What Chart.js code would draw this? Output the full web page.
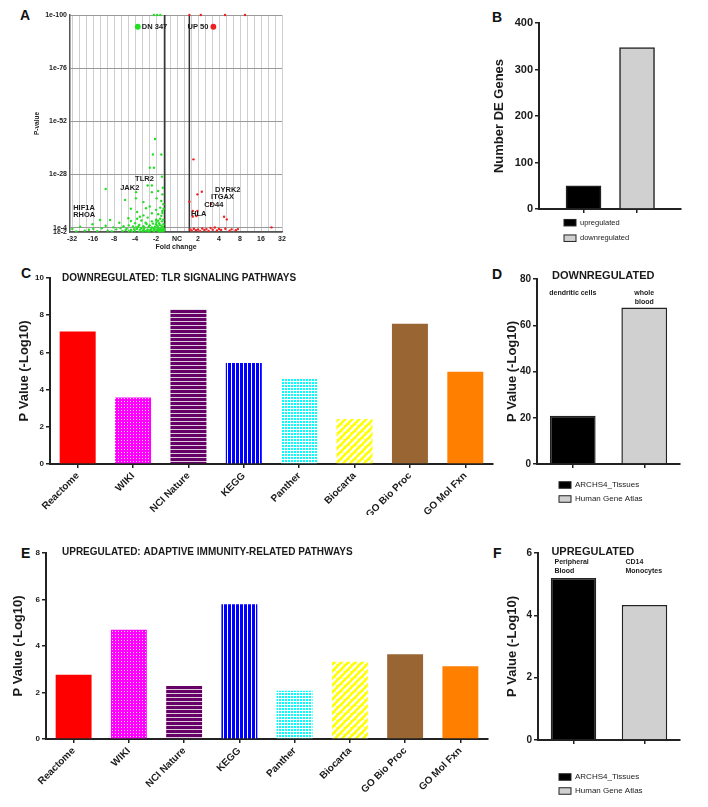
<!DOCTYPE html>
<html>
<head>
<meta charset="utf-8">
<script src="https://cdn.jsdelivr.net/npm/chart.js@4.4.1/dist/chart.umd.min.js"></script>
<style>
  body { margin: 0; width: 708px; height: 807px; position: relative; overflow: hidden; background: #fff;
         font-family: 'Liberation Sans', Arial, sans-serif; }
  canvas { position: absolute; }
  .tag { position: absolute; font-weight: bold; font-size: 14px; line-height: 14px; color: #111; }
</style>
</head>
<body>
<div class="tag" style="left:20px;top:8px">A</div>
<div class="tag" style="left:492px;top:10px">B</div>
<div class="tag" style="left:21px;top:266px">C</div>
<div class="tag" style="left:492px;top:267px">D</div>
<div class="tag" style="left:21px;top:546px">E</div>
<div class="tag" style="left:493px;top:546px">F</div>

<canvas id="chartA" width="300" height="252" style="left:0;top:0"></canvas>
<canvas id="chartB" width="268" height="250" style="left:440px;top:0"></canvas>
<canvas id="chartC" width="500" height="265" style="left:0;top:250px"></canvas>
<canvas id="chartD" width="248" height="262" style="left:460px;top:250px"></canvas>
<canvas id="chartE" width="500" height="297" style="left:0;top:510px"></canvas>
<canvas id="chartF" width="248" height="297" style="left:460px;top:510px"></canvas>

<script>
const FONT = "'Liberation Sans', Arial, sans-serif";

// --- panel A: volcano plot (x = signed log2 fold change, y = -log10 p)
const foldTicks = [-5, -4, -3, -2, -1, 0, 1, 2, 3, 4, 5];
const pValueTicks = [2, 4, 28, 52, 76, 100];
const foldCutoffs = [-0.585, 0.585];
const deNames = ['DN', 'UP'];
const deCounts = [347, 50];
const deMarkers = [[-1.87, 94.7], [1.73, 94.7]];

const downGenes = [
  [-1.1, 100], [-0.95, 100], [-0.8, 100],
  [-1.05, 44], [-1.15, 37], [-0.75, 37], [-1.3, 31], [-1.1, 31], [-0.72, 27], [-1.4, 23], [-1.2, 23],
  [-0.68, 22], [-3.4, 21.4], [-1.95, 20], [-1.2, 20], [-0.9, 20.5], [-0.7, 19], [-2.48, 16.5], [-1.96, 17.2],
  [-0.97, 17.2], [-0.75, 16], [-1.6, 15.5], [-1.48, 12.7], [-0.65, 14.5], [-0.8, 13], [-1.3, 13.5],
  [-2.2, 12.5], [-1.0, 12], [-0.7, 11.5], [-1.9, 11], [-1.2, 10.5], [-0.9, 10], [-1.77, 8.9], [-2.32, 8.2],
  [-0.75, 9.3], [-1.6, 9.5],
  [-4.99, 3.4], [-4.62, 4.4], [-4.03, 5.5], [-3.99, 3.4], [-3.67, 7.4], [-3.59, 3.7], [-3.19, 7.4],
  [-3.04, 4.1], [-2.75, 6.2], [-4.8, 2.3], [-4.4, 2.6], [-4.2, 3.0], [-3.8, 2.4], [-3.4, 4.8], [-3.3, 2.6],
  [-2.9, 3.2], [-2.6, 2.4], [-2.55, 4.6],
  [-2.4, 3.5], [-2.3, 5.0], [-2.3, 2.4], [-2.2, 7.0], [-2.2, 3.0], [-2.1, 4.5], [-2.0, 2.6], [-2.0, 6.0],
  [-1.9, 3.4], [-1.9, 8.0], [-1.8, 2.3], [-1.8, 5.2], [-1.7, 3.8], [-1.7, 7.2], [-1.6, 2.8], [-1.6, 4.6],
  [-1.5, 6.2], [-1.5, 2.4], [-1.4, 3.2], [-1.4, 8.5], [-1.3, 5.0], [-1.3, 2.6], [-1.2, 4.0], [-1.2, 6.8],
  [-1.1, 2.3], [-1.1, 3.6], [-1.0, 5.5], [-1.0, 7.5], [-0.95, 2.8], [-0.9, 4.2], [-0.85, 3.2], [-0.85, 6.0],
  [-0.8, 2.4], [-0.8, 8.0], [-0.75, 4.8], [-0.7, 3.0], [-0.7, 2.2], [-0.65, 5.5], [-0.65, 3.8], [-0.62, 2.6],
  [-1.55, 3.9], [-1.25, 2.9], [-0.95, 4.9], [-1.35, 4.4], [-1.05, 3.1], [-0.72, 6.8], [-0.88, 2.5],
  [-1.15, 5.8], [-1.45, 5.6], [-0.78, 3.5], [-1.65, 2.2], [-2.15, 2.2], [-1.95, 4.1], [-1.75, 3.1],
  [-1.35, 2.1], [-1.05, 4.4], [-0.92, 3.6], [-0.83, 5.2], [-0.68, 4.3], [-0.63, 3.3], [-0.66, 7.6],
  [-0.74, 2.9], [-0.86, 2.2], [-0.98, 6.5], [-1.12, 2.7], [-1.22, 3.4], [-1.42, 2.6], [-1.58, 3.3],
  [-1.85, 4.5], [-2.05, 3.3], [-2.45, 2.9], [-2.7, 3.8], [-3.1, 2.3], [-0.7, 10.6], [-0.64, 12.5], [-0.9, 7.1]
];
const upGenes = [
  [0.59, 100], [1.13, 100], [2.29, 100], [3.24, 100],
  [0.78, 34.8], [1.18, 20.2], [0.97, 19], [0.59, 15.7], [1.62, 14.6], [0.75, 11.5], [0.97, 11.5],
  [0.92, 9.2], [0.75, 9], [2.24, 8.9], [2.37, 7.7], [4.5, 4.1],
  [0.62, 3.2], [0.7, 2.6], [0.8, 3.5], [0.9, 2.8], [1.0, 3.1], [1.1, 2.4], [1.2, 3.6], [1.3, 2.9],
  [1.4, 3.3], [1.5, 2.5], [1.6, 3.8], [1.7, 3.0], [1.8, 4.0], [1.9, 2.7], [2.0, 3.4], [2.1, 2.9],
  [2.3, 3.5], [2.5, 2.6], [2.6, 3.2], [2.8, 2.8], [2.9, 3.3]
];
const geneNames = ['HIF1A', 'RHOA', 'JAK2', 'TLR2', 'DYRK2', 'ITGAX', 'CD44', 'HLA'];
const geneSpots = [[-4.95, 12.8], [-4.95, 9.7], [-2.71, 21.9], [-2.0, 26], [1.81, 21], [1.62, 17.8], [1.29, 14.2], [0.67, 10.1]];

// --- panel B
const deGroups = ['upregulated', 'downregulated'];

// --- panels C and E: pathway enrichment
const pathways = ['Reactome', 'WIKI', 'NCI Nature', 'KEGG', 'Panther', 'Biocarta', 'GO Bio Proc', 'GO Mol Fxn'];
const downPathwayP = [7.13, 3.58, 8.3, 5.43, 4.62, 2.42, 7.54, 4.96];
const upPathwayP = [2.76, 4.7, 2.28, 5.8, 2.07, 3.32, 3.65, 3.13];

// --- panels D and F: tissue libraries
const libraries = ['ARCHS4_Tissues', 'Human Gene Atlas'];
const downTerms = [['dendritic cells'], ['whole', 'blood']];
const downTermP = [20.9, 67.7];
const upTerms = [['Peripheral', 'Blood'], ['CD14', 'Monocytes']];
const upTermP = [5.2, 4.33];

Chart.defaults.font.family = FONT;
Chart.defaults.color = '#1a1a1a';
Chart.defaults.animation = false;

// fill patterns like the Prism bars
function pattern(base, w, h, draw) {
  const c = document.createElement('canvas');
  c.width = w; c.height = h;
  const g = c.getContext('2d');
  g.fillStyle = base;
  g.fillRect(0, 0, w, h);
  if (draw) draw(g);
  return g.createPattern(c, 'repeat');
}
const pathwayFills = [
  '#ff0000',
  pattern('#ff00ff', 3, 3, g => { g.fillStyle = 'rgba(255,255,255,0.85)'; g.fillRect(1, 1, 1, 1); }),
  pattern('#660066', 4, 4, g => { g.fillStyle = '#dccbdc'; g.fillRect(0, 3, 4, 1); }),
  pattern('#0000ff', 4, 4, g => { g.fillStyle = '#ffffff'; g.fillRect(3, 0, 1, 4); }),
  pattern('#ffffff', 3, 3, g => { g.fillStyle = '#00ffff'; g.fillRect(0, 0, 2, 2); }),
  pattern('#ffff00', 7, 7, g => {
    g.strokeStyle = '#ffffff'; g.lineWidth = 2.4;
    [-7, 0, 7].forEach(k => { g.beginPath(); g.moveTo(k, 7); g.lineTo(k + 7, 0); g.stroke(); });
  }),
  '#996633',
  '#ff8000'
];
const libraryFills = ['#000000', '#d0d0d0'];

// text drawn relative to the plot area (titles)
const panelText = {
  id: 'panelText',
  afterDraw(chart, args, o) {
    if (!o.lines) return;
    const ctx = chart.ctx, a = chart.chartArea;
    ctx.save();
    ctx.fillStyle = '#1a1a1a';
    ctx.textBaseline = 'middle';
    ctx.textAlign = 'left';
    o.lines.forEach(l => {
      ctx.font = 'bold ' + l.size + 'px ' + FONT;
      ctx.fillText(l.text, a.left + l.dx, a.top + l.dy);
    });
    ctx.restore();
  }
};

// term names over the bars (D, F)
const barNotes = {
  id: 'barNotes',
  afterDraw(chart, args, o) {
    if (!o.notes) return;
    const ctx = chart.ctx, a = chart.chartArea, xs = chart.scales.x;
    ctx.save();
    ctx.font = 'bold 7px ' + FONT;
    ctx.fillStyle = '#1a1a1a';
    ctx.textBaseline = 'middle';
    ctx.textAlign = o.align;
    o.notes.forEach((lines, i) => {
      const cx = xs.getPixelForValue(i) + o.dx;
      lines.forEach((t, j) => ctx.fillText(t, cx, a.top + o.dy + j * o.lineGap));
    });
    ctx.restore();
  }
};

// little box legend under the bar charts
const boxLegend = {
  id: 'boxLegend',
  afterDraw(chart, args, o) {
    if (!o.items) return;
    const ctx = chart.ctx;
    ctx.save();
    ctx.font = o.size + 'px ' + FONT;
    ctx.textBaseline = 'middle';
    ctx.textAlign = 'left';
    o.items.forEach((it, i) => {
      const y = o.y + i * o.gap;
      ctx.fillStyle = it.fill;
      ctx.fillRect(o.x, y - 3.25, 12, 6.5);
      ctx.strokeStyle = '#222';
      ctx.lineWidth = 1;
      ctx.strokeRect(o.x, y - 3.25, 12, 6.5);
      ctx.fillStyle = '#1a1a1a';
      ctx.fillText(it.text, o.x + 16, y);
    });
    ctx.restore();
  }
};

// cutoff lines, DN/UP counts and gene names on the volcano
const volcanoMarks = {
  id: 'volcanoMarks',
  beforeDatasetsDraw(chart, args, o) {
    if (!o.cutoffs) return;
    const { ctx, chartArea: a } = chart;
    const x = chart.scales.x;
    ctx.save();
    ctx.strokeStyle = '#333';
    ctx.lineWidth = 1.5;
    o.cutoffs.forEach(v => {
      const px = x.getPixelForValue(v);
      ctx.beginPath(); ctx.moveTo(px, a.top); ctx.lineTo(px, a.bottom); ctx.stroke();
    });
    ctx.restore();
  },
  afterDatasetsDraw(chart, args, o) {
    if (!o.cutoffs) return;
    const ctx = chart.ctx, x = chart.scales.x, y = chart.scales.y;
    ctx.save();
    ctx.font = 'bold 7.5px ' + FONT;
    ctx.textBaseline = 'middle';
    o.counts.forEach((c, i) => {
      const px = x.getPixelForValue(c.at[0]), py = y.getPixelForValue(c.at[1]);
      ctx.fillStyle = c.color;
      ctx.beginPath(); ctx.arc(px, py, 2.9, 0, Math.PI * 2); ctx.fill();
      ctx.fillStyle = '#1a1a1a';
      ctx.textAlign = i === 0 ? 'left' : 'right';
      ctx.fillText(c.text, px + (i === 0 ? 4 : -5), py);
    });
    ctx.textAlign = 'left';
    ctx.fillStyle = '#1a1a1a';
    o.genes.forEach(g => ctx.fillText(g.text, x.getPixelForValue(g.at[0]), y.getPixelForValue(g.at[1])));
    ctx.restore();
  }
};

Chart.register(panelText, barNotes, boxLegend, volcanoMarks);

function foldLabel(v) {
  if (v === 0) return 'NC';
  return (v < 0 ? '-' : '') + Math.pow(2, Math.abs(v));
}
const toXY = p => ({ x: p[0], y: p[1] });
const small = { size: 7, weight: 'bold' };

// panel A
new Chart(document.getElementById('chartA'), {
  type: 'scatter',
  data: {
    datasets: [
      { data: downGenes.map(toXY), backgroundColor: '#22e022', pointRadius: 1.2, borderWidth: 0, clip: false },
      { data: upGenes.map(toXY), backgroundColor: '#f02020', pointRadius: 1.2, borderWidth: 0, clip: false }
    ]
  },
  options: {
    responsive: false, devicePixelRatio: 1,
    layout: { padding: { left: 0, right: 18, top: 15, bottom: 0 } },
    plugins: {
      legend: { display: false }, tooltip: { enabled: false },
      volcanoMarks: {
        cutoffs: foldCutoffs,
        counts: deNames.map((n, i) => ({ text: n + ' ' + deCounts[i], at: deMarkers[i], color: i === 0 ? '#22e022' : '#f02020' })),
        genes: geneNames.map((n, i) => ({ text: n, at: geneSpots[i] }))
      }
    },
    scales: {
      x: {
        type: 'linear', min: -5.1, max: 5,
        afterBuildTicks: s => {
          const t = [];
          foldTicks.forEach((v, i) => {
            t.push({ value: v });
            if (i < foldTicks.length - 1) { t.push({ value: v + 1 / 3 }); t.push({ value: v + 2 / 3 }); }
          });
          s.ticks = t;
        },
        ticks: { callback: v => foldTicks.includes(v) ? foldLabel(v) : '', autoSkip: false, maxRotation: 0, font: small, padding: 3, color: '#222' },
        grid: { color: '#cfcfcf', lineWidth: 1, drawTicks: false },
        border: { color: '#555', width: 1.5 },
        title: { display: true, text: 'Fold change', font: small, padding: { top: 0, bottom: 1 }, color: '#222' },
        afterFit: s => { s.height = 20; }
      },
      y: {
        type: 'linear', min: 2, max: 100,
        afterBuildTicks: s => { s.ticks = pValueTicks.map(v => ({ value: v })); },
        ticks: { callback: v => '1e-' + v, font: small, padding: 3, color: '#222' },
        grid: { color: '#9a9a9a', lineWidth: 1, drawTicks: false },
        border: { color: '#555', width: 1.5 },
        title: { display: true, text: 'P-value', font: { size: 6.5, weight: 'bold' }, padding: { top: 33 }, color: '#222' },
        afterFit: s => { s.width = 70; }
      }
    }
  }
});

// shared look of the Prism axes
function prismY(max, step, tickSize, titlePad, width) {
  return {
    min: 0, max: max,
    ticks: { stepSize: step, font: { size: tickSize, weight: 'bold' }, padding: 2, color: '#1a1a1a' },
    grid: { drawOnChartArea: false, tickLength: 4, color: '#222', lineWidth: 1.5 },
    border: { color: '#222', width: 2 },
    title: { display: true, text: 'P Value (-Log10)', font: { size: 13, weight: 'bold' }, padding: { top: titlePad }, color: '#1a1a1a' },
    afterFit: s => { s.width = width; }
  };
}
function prismX(height, showLabels) {
  return {
    offset: true,
    ticks: { display: showLabels, font: { size: 10, weight: 'bold' }, minRotation: 45, maxRotation: 45, autoSkip: false, padding: 2, color: '#1a1a1a' },
    grid: { drawOnChartArea: false, offset: false, tickLength: 4, color: '#222', lineWidth: 1.5 },
    border: { color: '#222', width: 2 },
    afterFit: s => { s.height = height; }
  };
}

// panel B
new Chart(document.getElementById('chartB'), {
  type: 'bar',
  data: {
    datasets: [{
      data: deGroups.map((g, i) => ({ x: i + 1, y: deCounts[1 - i] })),
      backgroundColor: libraryFills, borderColor: '#222', borderWidth: 1.5, barThickness: 35
    }]
  },
  options: {
    responsive: false, devicePixelRatio: 1,
    layout: { padding: { left: 0, right: 27, top: 23, bottom: 0 } },
    plugins: {
      legend: { display: false }, tooltip: { enabled: false },
      boxLegend: { x: 124, y: 222.7, gap: 15.5, size: 7.5, items: deGroups.map((g, i) => ({ text: g, fill: libraryFills[i] })) }
    },
    scales: {
      x: Object.assign(prismX(41, false), {
        type: 'linear', min: 0.168, max: 2.822, offset: false,
        afterBuildTicks: s => { s.ticks = deGroups.map((g, i) => ({ value: i + 1 })); }
      }),
      y: Object.assign(prismY(400, 100, 11, 52, 99), {
        title: { display: true, text: 'Number DE Genes', font: { size: 13, weight: 'bold' }, padding: { top: 52 }, color: '#1a1a1a' }
      })
    }
  }
});

// panels C and E
function pathwayChart(id, values, max, pad, yWidth, xHeight, titlePad, title) {
  new Chart(document.getElementById(id), {
    type: 'bar',
    data: {
      labels: pathways,
      datasets: [{ data: values, backgroundColor: pathwayFills, barPercentage: 0.65, categoryPercentage: 1 }]
    },
    options: {
      responsive: false, devicePixelRatio: 1,
      layout: { padding: pad },
      plugins: {
        legend: { display: false }, tooltip: { enabled: false },
        panelText: { lines: [title] }
      },
      scales: {
        x: prismX(xHeight, true),
        y: prismY(max, 2, 8, titlePad, yWidth)
      }
    }
  });
}
pathwayChart('chartC', downPathwayP, 10, { left: 0, right: 7, top: 28, bottom: 0 }, 50, 51, 17,
  { text: 'DOWNREGULATED: TLR SIGNALING PATHWAYS', size: 10, dx: 12, dy: 0 });
pathwayChart('chartE', upPathwayP, 8, { left: 0, right: 12, top: 43, bottom: 0 }, 46, 68, 10.5,
  { text: 'UPREGULATED: ADAPTIVE IMMUNITY-RELATED PATHWAYS', size: 10, dx: 16, dy: -0.6 });

// panels D and F
function libraryChart(id, values, max, step, terms, notes, pad, yWidth, xHeight, title, legendY) {
  new Chart(document.getElementById(id), {
    type: 'bar',
    data: {
      labels: libraries,
      datasets: [{ data: values, backgroundColor: libraryFills, borderColor: '#222', borderWidth: 1.5, barPercentage: 0.64, categoryPercentage: 1 }]
    },
    options: {
      responsive: false, devicePixelRatio: 1,
      layout: { padding: pad },
      plugins: {
        legend: { display: false }, tooltip: { enabled: false },
        panelText: { lines: [title] },
        barNotes: Object.assign({ notes: terms }, notes),
        boxLegend: { x: 99, y: legendY, gap: 14, size: 8, items: libraries.map((l, i) => ({ text: l, fill: libraryFills[i] })) }
      },
      scales: {
        x: prismX(xHeight, false),
        y: prismY(max, step, 10, 45, yWidth)
      }
    }
  });
}
libraryChart('chartD', downTermP, 80, 20, downTerms, { align: 'center', dx: 0, dy: 14, lineGap: 9 },
  { left: 0, right: 28, top: 29, bottom: 0 }, 77, 48,
  { text: 'DOWNREGULATED', size: 11, dx: 15, dy: -2.6 }, 235);
libraryChart('chartF', upTermP, 6, 2, upTerms, { align: 'left', dx: -19, dy: 9, lineGap: 9.5 },
  { left: 0, right: 28, top: 43, bottom: 0 }, 78, 67,
  { text: 'UPREGULATED', size: 11, dx: 13.4, dy: -0.6 }, 267);
</script>
</body>
</html>
